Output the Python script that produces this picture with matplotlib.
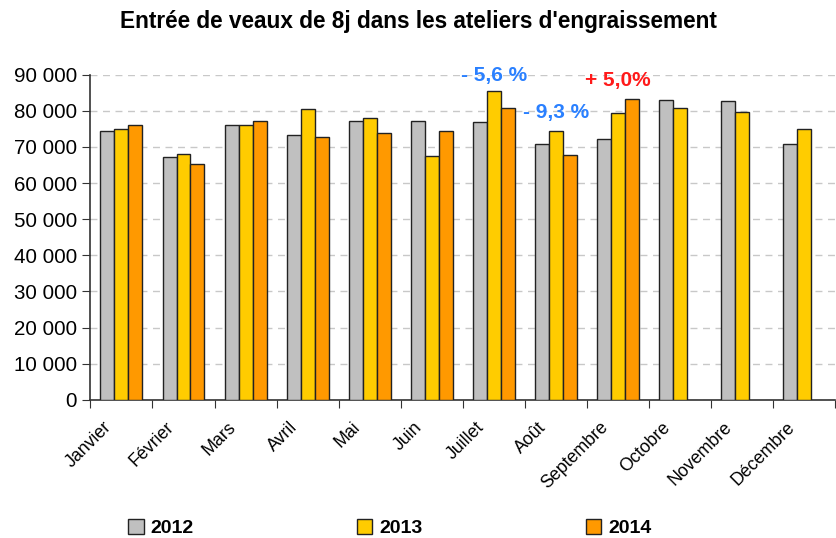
import numpy as np
from matplotlib import pyplot as plt

plt.rcParams['font.family'] = ['Liberation Sans', 'DejaVu Sans']

months = ["Janvier", "Février", "Mars", "Avril", "Mai", "Juin", "Juillet",
          "Août", "Septembre", "Octobre", "Novembre", "Décembre"]
v2012 = [74500, 67300, 76000, 73300, 77300, 77300, 76900, 70800, 72100, 83100, 82800, 70800]
v2013 = [74900, 68100, 76000, 80400, 78100, 67400, 85600, 74500, 79300, 80800, 79700, 74900]
v2014 = [76000, 65400, 77300, 72900, 73900, 74500, 80800, 67700, 83200]
series = [("2012", v2012, "#c0c0c0"), ("2013", v2013, "#ffcc00"), ("2014", v2014, "#ff9900")]

notes = [("- 5,6 %", 6, 89700, "#2a80ff"),
         ("- 9,3 %", 7, 79500, "#2a80ff"),
         ("+ 5,0%", 8, 88500, "#ff1a1a")]

fig = plt.figure(figsize=(8.37, 5.38), dpi=100)
ax = fig.add_axes([0.108, 0.257, 0.89, 0.604])

w = 0.225
for i, (name, vals, col) in enumerate(series):
    x = np.arange(len(vals)) + (i - 1) * w
    ax.bar(x, vals, width=w, color=col, edgecolor="#222222", linewidth=1.0,
           label=name, zorder=3)

ax.set_xlim(-0.5, 11.5)
ax.set_ylim(0, 90000)
ax.set_yticks(np.arange(0, 90001, 10000))
ax.set_yticklabels([f"{v:,}".replace(",", " ") for v in range(0, 90001, 10000)],
                   fontsize=14.8)
ax.yaxis.grid(True, linestyle=(0, (5, 4)), color="#c8c8c8", linewidth=1, zorder=0)

ax.set_xticks(np.arange(-0.5, 12, 1))
ax.set_xticklabels([])
# labels end a little left of the group centre, as in the original
ax.set_xticks(np.arange(12) - 0.2, minor=True)
ax.set_xticklabels(months, minor=True, rotation=45, ha="right", va="center",
                   rotation_mode="anchor", fontsize=12.8)
ax.tick_params(axis="x", which="minor", length=0, pad=18)
ax.tick_params(axis="x", which="major", length=6, color="#333333")
ax.tick_params(axis="y", length=6, color="#333333")

for s in ["top", "right"]:
    ax.spines[s].set_visible(False)
for s in ["left", "bottom"]:
    ax.spines[s].set_color("#333333")
    ax.spines[s].set_linewidth(1.2)

for txt, x, y, col in notes:
    ax.text(x, y, txt, color=col, fontsize=15, fontweight="bold",
            ha="center", va="center", zorder=5)

fig.suptitle("Entrée de veaux de 8j dans les ateliers d'engraissement",
             x=0.5, y=0.982, fontsize=16.3, fontweight="bold")

fig.legend(loc="center left", bbox_to_anchor=(128 / 837, 0.019), ncol=3, frameon=False,
           prop={"weight": "bold", "size": 14}, handlelength=0.8, handleheight=0.8,
           handletextpad=0.35, columnspacing=8.4, borderpad=0, borderaxespad=0)

fig.savefig("out.png", dpi=100)
